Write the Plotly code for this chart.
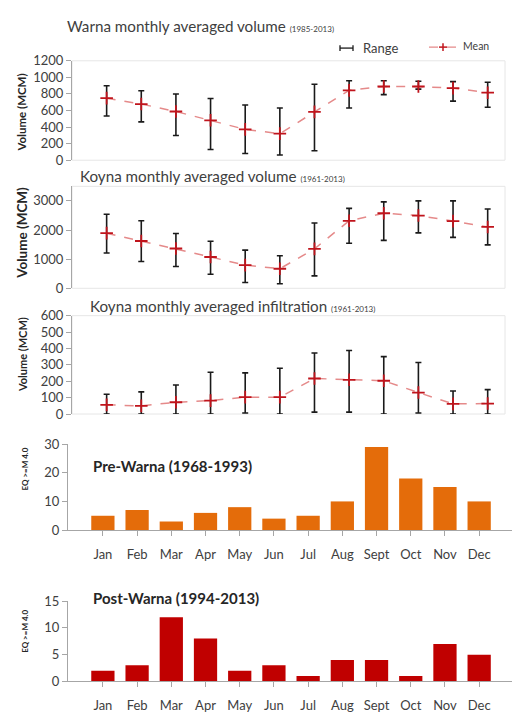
import plotly.graph_objects as go

months = ["Jan", "Feb", "Mar", "Apr", "May", "Jun", "Jul", "Aug", "Sept", "Oct", "Nov", "Dec"]
xpos = list(range(12))

warna_mean = [749, 678, 588, 482, 372, 321, 584, 843, 890, 890, 870, 815]
warna_max = [898, 839, 800, 745, 666, 631, 917, 960, 960, 953, 949, 941]
warna_min = [533, 463, 298, 129, 82, 63, 114, 631, 792, 858, 713, 639]

koyna_mean = [1893, 1624, 1366, 1075, 795, 672, 1355, 2318, 2576, 2498, 2307, 2106]
koyna_max = [2542, 2318, 1882, 1613, 1310, 1120, 2240, 2744, 2968, 3002, 3002, 2722]
koyna_min = [1210, 918, 750, 482, 202, 157, 426, 1546, 1646, 1904, 1747, 1490]

infil_mean = [56, 50, 72, 82, 103, 103, 217, 209, 203, 131, 62, 64]
infil_max = [121, 135, 177, 255, 251, 279, 372, 388, 350, 314, 141, 149]
infil_min = [0, 0, 0, 0, 6, 0, 12, 12, 0, 6, 0, 0]

pre_warna = [5, 7, 3, 6, 8, 4, 5, 10, 29, 18, 15, 10]
post_warna = [2, 3, 12, 8, 2, 3, 1, 4, 4, 1, 7, 5]

H = 718.0
W = 512.0
FONT = "Lato"
TXT = "#404040"


def py(p):
    return (H - p) / H


def px(p):
    return p / W


fig = go.Figure()

line_panels = [
    (warna_mean, warna_max, warna_min, "x", "y"),
    (koyna_mean, koyna_max, koyna_min, "x2", "y2"),
    (infil_mean, infil_max, infil_min, "x3", "y3"),
]
for mean, mx, mn, xa, ya in line_panels:
    up = [a - b for a, b in zip(mx, mean)]
    dn = [b - c for b, c in zip(mean, mn)]
    fig.add_trace(go.Scatter(
        x=xpos, y=mean, mode="markers", xaxis=xa, yaxis=ya,
        marker=dict(size=1, color="rgba(0,0,0,0)"),
        error_y=dict(type="data", symmetric=False, array=up, arrayminus=dn,
                     color="#1a1a1a", thickness=1.6, width=3),
        showlegend=False, hoverinfo="skip"))
    fig.add_trace(go.Scatter(
        x=xpos, y=mean, mode="lines+markers", xaxis=xa, yaxis=ya,
        line=dict(color="#e58a8a", width=1.5, dash="dash"),
        marker=dict(symbol="cross-thin", size=9, line=dict(color="#c0141c", width=1.8)),
        showlegend=False))

fig.add_trace(go.Bar(x=months, y=pre_warna, xaxis="x4", yaxis="y4",
                     marker=dict(color="#e46c0a", line=dict(width=0)), showlegend=False))
fig.add_trace(go.Bar(x=months, y=post_warna, xaxis="x5", yaxis="y5",
                     marker=dict(color="#c00000", line=dict(width=0)), showlegend=False))

tickfont = dict(family=FONT, size=13, color=TXT)

line_dom_x = [px(72), px(505)]
bar_dom_x = [px(68), 1.0]

layout = dict(
    width=512, height=718,
    margin=dict(l=0, r=0, t=0, b=0),
    paper_bgcolor="white", plot_bgcolor="white",
    bargap=0.32,
    font=dict(family=FONT, color=TXT),
)

ydefs = {
    "": ([py(155.7), py(54)], [0, 1200], 200),
    "2": ([py(286.7), py(182.4)], [0, 3500], 1000),
    "3": ([py(415.3), py(314.7)], [0, 600], 100),
    "4": ([py(534), py(446)], [0, 30], 10),
    "5": ([py(688.7), py(606.7)], [0, 15], 5),
}
for key in ["", "2", "3", "4", "5"]:
    dom, rng, dt = ydefs[key]
    is_bar = key in ("4", "5")
    layout["yaxis" + key] = dict(
        domain=dom, range=rng, dtick=dt, anchor="x" + key,
        showgrid=False, zeroline=False, showline=True,
        linecolor="#a6a6a6", linewidth=1.2,
        ticks="outside", ticklen=5, tickcolor="#a6a6a6",
        tickfont=tickfont, fixedrange=True,
    )
    if is_bar:
        layout["xaxis" + key] = dict(
            domain=bar_dom_x, anchor="y" + key, type="category",
            range=[-1.02, 11.96], showgrid=False, zeroline=False,
            showline=True, linecolor="#a6a6a6", linewidth=1.2,
            ticks="outside", ticklen=5, tickcolor="#a6a6a6",
            tickfont=tickfont, ticklabelstandoff=7,
        )
    else:
        layout["xaxis" + key] = dict(
            domain=line_dom_x, anchor="y" + key, range=[-1, 11.5],
            showgrid=False, zeroline=False, showline=False,
            showticklabels=False, ticks="",
        )

fig.update_layout(**layout)

# light box around line-chart plot areas
for key in ["", "2", "3"]:
    fig.add_shape(type="rect", xref="x%s domain" % key, yref="y%s domain" % key,
                  x0=0, x1=1, y0=0, y1=1, line=dict(color="#e6e6e6", width=1),
                  layer="below")

ann = []
titles = [
    ("Warna monthly averaged volume", "(1985-2013)", 65, 18),
    ("Koyna monthly averaged volume", "(1961-2013)", 78, 172),
    ("Koyna monthly averaged infiltration", "(1961-2013)", 88, 305),
]
for t, s, x, y in titles:
    ann.append(dict(text="%s <span style='font-size:8px'>%s</span>" % (t, s),
                    x=px(x), y=py(y), xref="paper", yref="paper",
                    xanchor="left", yanchor="middle", showarrow=False,
                    font=dict(family=FONT, size=15.2, color=TXT)))

for y, fs in [(107, 11.5), (230, 13.5), (355, 11)]:
    ann.append(dict(text="<b>Volume (MCM)</b>", x=px(22), y=py(y), xref="paper", yref="paper",
                    xanchor="center", yanchor="middle", textangle=-90, showarrow=False,
                    font=dict(family=FONT, size=fs, color="#262626")))
for y in [472, 638]:
    ann.append(dict(text="<b>EQ >=M 4.0</b>", x=px(25), y=py(y), xref="paper", yref="paper",
                    xanchor="center", yanchor="middle", textangle=-90, showarrow=False,
                    font=dict(family=FONT, size=8, color="#262626")))

ann.append(dict(text="<b>Pre-Warna (1968-1993)</b>", x=px(91), y=py(468), xref="paper", yref="paper",
                xanchor="left", yanchor="middle", showarrow=False,
                font=dict(family=FONT, size=15, color="#262626")))
ann.append(dict(text="<b>Post-Warna (1994-2013)</b>", x=px(91), y=py(603), xref="paper", yref="paper",
                xanchor="left", yanchor="middle", showarrow=False,
                font=dict(family=FONT, size=15, color="#262626")))

# legend
ann.append(dict(text="Range", x=px(361), y=py(41), xref="paper", yref="paper",
                xanchor="left", yanchor="middle", showarrow=False,
                font=dict(family=FONT, size=13, color=TXT)))
ann.append(dict(text="Mean", x=px(461), y=py(39), xref="paper", yref="paper",
                xanchor="left", yanchor="middle", showarrow=False,
                font=dict(family=FONT, size=10.5, color=TXT)))
fig.update_layout(annotations=ann)

legend_shapes = [
    dict(x0=340, x1=353, y0=41, y1=41, color="#1a1a1a", dash="solid", w=1.3),
    dict(x0=340, x1=340, y0=38, y1=44, color="#1a1a1a", dash="solid", w=1.3),
    dict(x0=353, x1=353, y0=38, y1=44, color="#1a1a1a", dash="solid", w=1.3),
    dict(x0=429, x1=457, y0=40, y1=40, color="#e58a8a", dash="dash", w=1.3),
    dict(x0=439, x1=447, y0=40, y1=40, color="#c0141c", dash="solid", w=1.5),
    dict(x0=443, x1=443, y0=36, y1=44, color="#c0141c", dash="solid", w=1.5),
]
for s in legend_shapes:
    fig.add_shape(type="line", xref="paper", yref="paper",
                  x0=px(s["x0"]), x1=px(s["x1"]), y0=py(s["y0"]), y1=py(s["y1"]),
                  line=dict(color=s["color"], width=s["w"], dash=s["dash"]))

fig.write_html("out.html")
